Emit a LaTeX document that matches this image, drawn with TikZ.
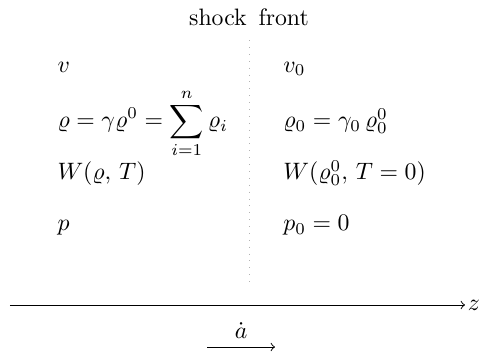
\documentclass[tikz,border=0pt]{standalone}
\usepackage{amsmath}
\begin{document}
\begin{tikzpicture}
\useasboundingbox (0,0) rectangle (7.134,5.254);
\node (front) at (3.685,5.0) {shock\, front};
\coordinate (ftop) at (3.685,4.66);
\coordinate (fbot) at (3.685,1.04);
\draw[gray!60,line width=0.3pt,dash pattern=on 0.4pt off 2.5pt] (ftop) -- (fbot);
\node (v) at (0.844,4.188) [anchor=base west,inner sep=0pt] {$v$};
\node (v0) at (4.188,4.188) [anchor=base west,inner sep=0pt] {$v_0$};
\node (rho) at (0.844,3.36) [anchor=base west,inner sep=0pt] {$\displaystyle\varrho=\gamma\varrho^0=\sum_{i=1}^{n}\varrho_i$};
\node (rho0) at (4.188,3.36) [anchor=base west,inner sep=0pt] {$\varrho_0=\gamma_0\,\varrho_0^0$};
\node (W) at (0.844,2.59) [anchor=base west,inner sep=0pt] {$W(\varrho,\,T)$};
\node (W0) at (4.188,2.59) [anchor=base west,inner sep=0pt] {$W(\varrho_0^0,\,T=0)$};
\node (p) at (0.844,1.835) [anchor=base west,inner sep=0pt] {$p$};
\node (p0) at (4.188,1.835) [anchor=base west,inner sep=0pt] {$p_0=0$};
\coordinate (zstart) at (0.148,0.74);
\coordinate (zend) at (6.882,0.74);
\draw[->] (zstart) -- (zend) node[right,inner sep=1pt] (z) {$z$};
\coordinate (astart) at (3.064,0.118);
\coordinate (aend) at (4.07,0.118);
\draw[->] (astart) -- (aend);
\node (adot) at (3.57,0.36) {$\dot a$};
\end{tikzpicture}
\end{document}
